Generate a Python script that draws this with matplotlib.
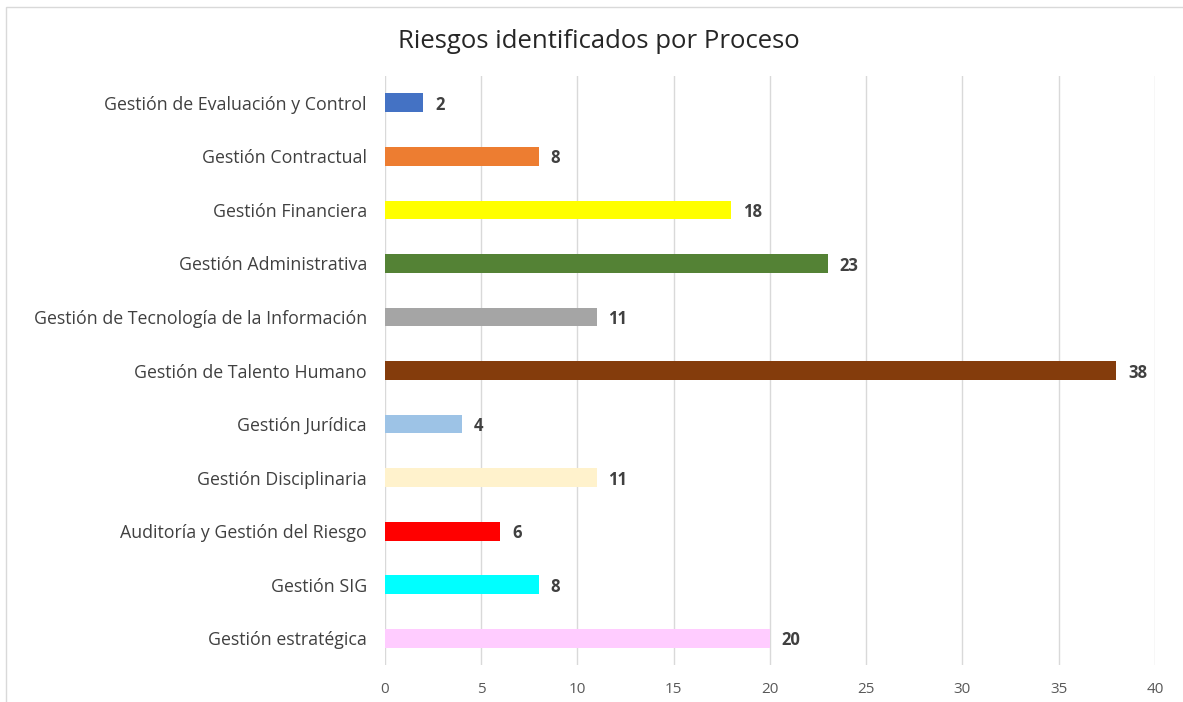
import matplotlib
matplotlib.use("Agg")
import matplotlib.pyplot as plt
import matplotlib.patches as patches

procesos = ["Gestión de Evaluación y Control", "Gestión Contractual", "Gestión Financiera",
            "Gestión Administrativa", "Gestión de Tecnología de la Información",
            "Gestión de Talento Humano", "Gestión Jurídica", "Gestión Disciplinaria",
            "Auditoría y Gestión del Riesgo", "Gestión SIG", "Gestión estratégica"]
riesgos = [2, 8, 18, 23, 11, 38, 4, 11, 6, 8, 20]
colores = ["#4472C4", "#ED7D31", "#FFFF00", "#548235", "#A5A5A5", "#843C0C",
           "#9DC3E6", "#FFF2CC", "#FF0000", "#00FFFF", "#FFCCFF"]
xticks = [0, 5, 10, 15, 20, 25, 30, 35, 40]

plt.rcParams['font.family'] = ['Open Sans', 'DejaVu Sans']

fig = plt.figure(figsize=(11.83, 7.02), dpi=100)
ax = fig.add_axes([0.3254, 0.0527, 0.6509, 0.839])

ys = list(range(len(procesos)))
ax.barh(ys, riesgos, height=0.35, color=colores, zorder=3)
for y, v in zip(ys, riesgos):
    ax.text(v + 0.6, y + 0.04, str(v), va='center', ha='left', fontsize=12,
            fontweight='bold', color='#404040')

ax.set_ylim(len(procesos) - 0.5, -0.5)
ax.set_xlim(0, 40)
ax.set_xticks(xticks)
ax.set_yticks(ys)
ax.set_yticklabels(procesos, fontsize=12.8, color='#404040')
ax.tick_params(axis='x', labelsize=11, colors='#595959', length=0, pad=12)
ax.tick_params(axis='y', length=0, pad=13)
ax.grid(axis='x', color='#D9D9D9', lw=1, zorder=0)
for s in ax.spines.values():
    s.set_visible(False)

fig.text(0.506, 0.941, "Riesgos identificados por Proceso", ha='center', va='center',
         fontsize=18.5, color='#262626')
fig.patches.append(patches.Rectangle((0.005, -0.01), 1.0, 1.0, transform=fig.transFigure,
                                     fill=False, edgecolor='#D9D9D9', lw=1))

fig.savefig('out.png', dpi=100)
